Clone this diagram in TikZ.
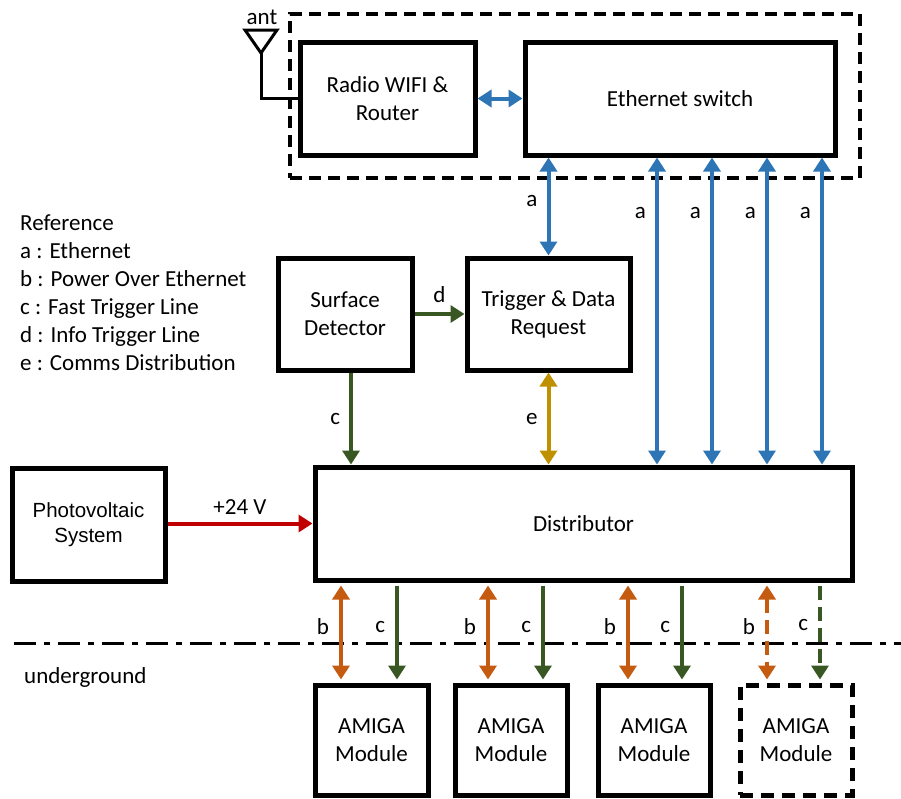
\documentclass[tikz,border=0pt]{standalone}
\usepackage{fontspec}
\setmainfont{Carlito}
\newfontfamily\pvfont{Liberation Sans}
\usetikzlibrary{arrows.meta}
\definecolor{ethblue}{HTML}{2E75B6}
\definecolor{trggreen}{HTML}{385723}
\definecolor{poeorange}{HTML}{C55A11}
\definecolor{comgold}{HTML}{BF9000}
\definecolor{pwrred}{HTML}{C00000}
\begin{document}
\begin{tikzpicture}[x=1pt, y=-1pt,
    font=\fontsize{23}{28}\selectfont,
    box/.style={draw, line width=5pt, align=center, inner sep=0pt},
    dbox/.style={box, dash pattern=on 13pt off 8pt},
    tip/.style={-{Triangle[width=17pt,length=14pt]}},
    link/.style={line width=4pt, tip},
    both/.style={line width=4pt, {Triangle[width=17pt,length=14pt]}-{Triangle[width=17pt,length=14pt]}},
    lbl/.style={inner sep=0pt, text=black}]
\useasboundingbox (0,0) rectangle (901,798);

% network part
\node[draw, line width=3.5pt, dash pattern=on 12pt off 7pt,
      minimum width=570pt, minimum height=164pt] (lan) at (575,96) {};
\node[box, minimum width=175pt, minimum height=113pt] (radio) at (387.5,98.5) {Radio WIFI \&\\Router};
\node[box, minimum width=310pt, minimum height=113pt] (eth) at (680,98.5) {Ethernet switch};

% antenna
\coordinate (ant) at (261,53);
\draw[line width=3pt, line join=miter] (245,30) -- (277,30) -- (ant) -- cycle;
\draw[line width=3pt] (ant) |- (radio.west);
\node[lbl] (antlbl) at (262,17) {ant};

% detector and trigger
\node[box, minimum width=134pt, minimum height=112pt] (surf) at (345,314) {Surface\\Detector};
\node[box, minimum width=163pt, minimum height=112pt] (trig) at (548.5,314) {Trigger \& Data\\Request};
\node[box, minimum width=537pt, minimum height=113pt] (dist) at (583.5,523.5) {Distributor};
\node[box, minimum width=153pt, minimum height=113pt, font=\pvfont\fontsize{20.5}{25}\selectfont] (pv) at (88.5,524.5) {Photovoltaic\\System};

% legend
\node[anchor=north west, align=left, inner sep=0pt, font=\fontsize{23}{28}\selectfont] (legend) at (20,215)
  {Reference\\a : Ethernet\\b : Power Over Ethernet\\c : Fast Trigger Line\\d : Info Trigger Line\\e : Comms Distribution};

% ground line
\coordinate (gl) at (14,643);
\coordinate (gr) at (901,643);
\draw[line width=3pt, dash pattern=on 22pt off 8pt on 6pt off 8pt] (gl) -- (gr);
\node[anchor=west, lbl] (ug) at (24,677) {underground};

% modules
\node[box, minimum width=113pt, minimum height=110pt] (m1) at (371.5,740) {AMIGA\\Module};
\node[box, minimum width=112pt, minimum height=110pt] (m2) at (511,740) {AMIGA\\Module};
\node[box, minimum width=112pt, minimum height=110pt] (m3) at (654,740) {AMIGA\\Module};
\node[dbox, minimum width=112pt, minimum height=110pt] (m4) at (796,740) {AMIGA\\Module};

% links
\draw[both, ethblue] (radio.east) -- (eth.west);
\draw[both, ethblue] (trig.north) -- node[lbl, left=9pt, pos=0.56] {a} (eth.south -| trig.north);
\foreach \i/\x in {1/657, 2/712, 3/767, 4/822} {
  \coordinate (ax\i) at (\x,0);
  \draw[both, ethblue] (eth.south -| ax\i) -- node[lbl, left=9pt, pos=0.18] {a} (dist.north -| ax\i);
}
\coordinate (sc) at (351,0);
\draw[link, trggreen] (surf.east) -- node[lbl, above=9pt] {d} (trig.west);
\draw[link, trggreen] (surf.south -| sc) -- node[lbl, left=9pt] {c} (dist.north -| sc);
\draw[both, comgold] (trig.south) -- node[lbl, left=9pt] {e} (dist.north -| trig.south);
\draw[link, pwrred] (pv.east |- dist.west) -- node[lbl, above=7pt] {+24 V} (dist.west);

\foreach \m/\b/\c in {m1/341/397, m2/488/543, m3/628/682} {
  \coordinate (b\m) at (\b,0);
  \coordinate (c\m) at (\c,0);
  \draw[both, poeorange, shorten <=3pt, shorten >=3pt] (dist.south -| b\m) -- node[lbl, left=10pt, pos=0.44] {b} (\m.north -| b\m);
  \draw[link, trggreen, shorten <=3pt, shorten >=3pt] (dist.south -| c\m) -- node[lbl, left=10pt, pos=0.44] {c} (\m.north -| c\m);
}
\coordinate (bm4) at (767,0);
\coordinate (cm4) at (820,0);
\draw[both, poeorange, dash pattern=on 14pt off 7pt, shorten <=3pt, shorten >=3pt] (dist.south -| bm4) -- node[lbl, left=10pt, pos=0.44] {b} (m4.north -| bm4);
\draw[link, trggreen, dash pattern=on 14pt off 7pt, shorten <=3pt, shorten >=3pt] (dist.south -| cm4) -- node[lbl, left=10pt, pos=0.42] {c} (m4.north -| cm4);
\end{tikzpicture}
\end{document}
